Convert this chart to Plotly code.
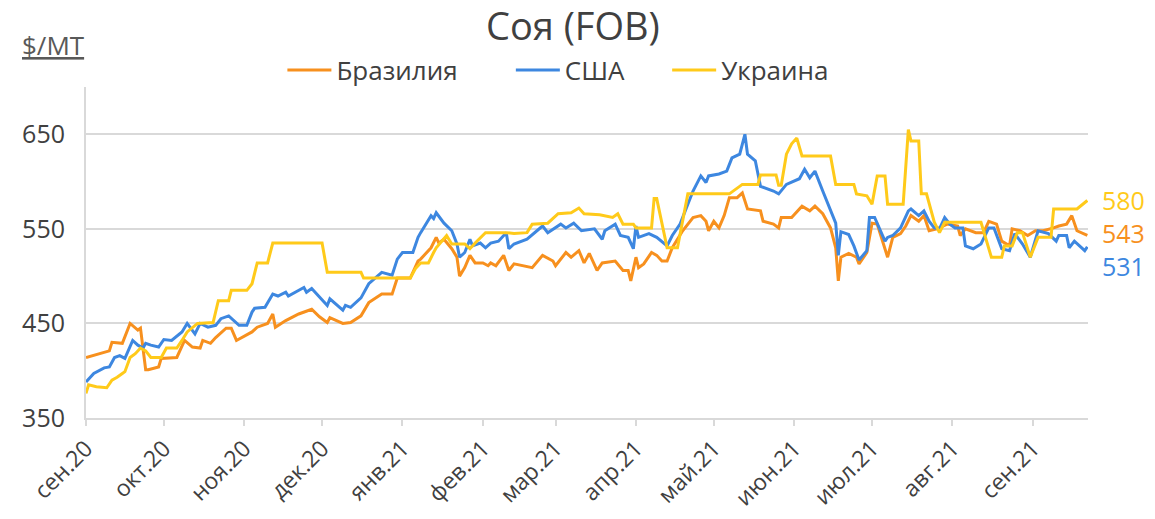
import plotly.graph_objects as go

# ---------------- data ----------------
brazil_dates = [
    "2020-09-01", "2020-09-10", "2020-09-11", "2020-09-15", "2020-09-18", "2020-09-21", "2020-09-22",
    "2020-09-24", "2020-09-25", "2020-09-29", "2020-09-30", "2020-10-06", "2020-10-09", "2020-10-12",
    "2020-10-15", "2020-10-16", "2020-10-19", "2020-10-21", "2020-10-25", "2020-10-27", "2020-10-29",
    "2020-10-31", "2020-11-04", "2020-11-06", "2020-11-10", "2020-11-12", "2020-11-13", "2020-11-17",
    "2020-11-22", "2020-11-27", "2020-11-30", "2020-12-03", "2020-12-04", "2020-12-09", "2020-12-12",
    "2020-12-16", "2020-12-19", "2020-12-24", "2020-12-28", "2020-12-30", "2021-01-04", "2021-01-07",
    "2021-01-08", "2021-01-12", "2021-01-14", "2021-01-15", "2021-01-17", "2021-01-20", "2021-01-22",
    "2021-01-23", "2021-01-25", "2021-01-27", "2021-01-29", "2021-02-01", "2021-02-03", "2021-02-04",
    "2021-02-06", "2021-02-09", "2021-02-11", "2021-02-13", "2021-02-20", "2021-02-24", "2021-02-28",
    "2021-03-01", "2021-03-05", "2021-03-07", "2021-03-10", "2021-03-12", "2021-03-14", "2021-03-17",
    "2021-03-19", "2021-03-24", "2021-03-27", "2021-03-29", "2021-03-30", "2021-04-01", "2021-04-02",
    "2021-04-04", "2021-04-07", "2021-04-09", "2021-04-11", "2021-04-13", "2021-04-15", "2021-04-19",
    "2021-04-23", "2021-04-26", "2021-04-28", "2021-04-29", "2021-05-01", "2021-05-03", "2021-05-05",
    "2021-05-07", "2021-05-10", "2021-05-12", "2021-05-14", "2021-05-19", "2021-05-20", "2021-05-24",
    "2021-05-26", "2021-05-27", "2021-05-31", "2021-06-04", "2021-06-07", "2021-06-09", "2021-06-12",
    "2021-06-15", "2021-06-17", "2021-06-18", "2021-06-19", "2021-06-22", "2021-06-25", "2021-06-26",
    "2021-06-29", "2021-07-01", "2021-07-03", "2021-07-07", "2021-07-09", "2021-07-12", "2021-07-14",
    "2021-07-16", "2021-07-17", "2021-07-19", "2021-07-21", "2021-07-23", "2021-07-26", "2021-07-30",
    "2021-08-03", "2021-08-04", "2021-08-06", "2021-08-10", "2021-08-13", "2021-08-15", "2021-08-18",
    "2021-08-20", "2021-08-23", "2021-08-24", "2021-08-27", "2021-08-30", "2021-09-02", "2021-09-05",
    "2021-09-09", "2021-09-11", "2021-09-14", "2021-09-16", "2021-09-18", "2021-09-22",
]
brazil_values = [
    414, 421, 430, 429, 450, 443, 445,
    401, 401, 404, 413, 414, 432, 425,
    424, 432, 429, 435, 445, 445, 432,
    435, 441, 446, 450, 460, 446, 453,
    460, 465, 457, 451, 456, 450, 451,
    458, 472, 481, 481, 498, 498, 516,
    518, 530, 541, 535, 539, 529, 520,
    500, 509, 522, 514, 514, 511, 514,
    511, 522, 506, 513, 509, 522, 516,
    511, 525, 520, 527, 514, 524, 506,
    514, 516, 506, 506, 495, 520, 509,
    513, 525, 522, 516, 516, 530, 548,
    562, 564, 558, 548, 558, 551, 564,
    583, 583, 588, 571, 569, 558, 555,
    551, 562, 562, 574, 569, 574, 566,
    551, 530, 495, 520, 524, 520, 513,
    525, 556, 555, 520, 541, 545, 553,
    564, 562, 558, 564, 548, 550, 555,
    553, 543, 550, 546, 546, 558, 555,
    537, 532, 550, 548, 543, 548, 548,
    551, 553, 555, 564, 548, 543,
]

usa_dates = [
    "2020-09-01", "2020-09-04", "2020-09-08", "2020-09-10", "2020-09-12", "2020-09-14", "2020-09-16",
    "2020-09-19", "2020-09-21", "2020-09-23", "2020-09-24", "2020-09-26", "2020-09-29", "2020-10-01",
    "2020-10-04", "2020-10-08", "2020-10-10", "2020-10-13", "2020-10-15", "2020-10-18", "2020-10-21",
    "2020-10-23", "2020-10-26", "2020-10-30", "2020-11-02", "2020-11-04", "2020-11-05", "2020-11-09",
    "2020-11-12", "2020-11-14", "2020-11-17", "2020-11-18", "2020-11-24", "2020-11-25", "2020-11-27",
    "2020-11-29", "2020-12-03", "2020-12-04", "2020-12-09", "2020-12-10", "2020-12-12", "2020-12-16",
    "2020-12-19", "2020-12-24", "2020-12-28", "2020-12-30", "2021-01-01", "2021-01-05", "2021-01-07",
    "2021-01-08", "2021-01-12", "2021-01-13", "2021-01-14", "2021-01-17", "2021-01-20", "2021-01-22",
    "2021-01-23", "2021-01-25", "2021-01-27", "2021-01-28", "2021-01-31", "2021-02-02", "2021-02-04",
    "2021-02-07", "2021-02-10", "2021-02-11", "2021-02-13", "2021-02-18", "2021-02-24", "2021-02-26",
    "2021-03-03", "2021-03-05", "2021-03-08", "2021-03-11", "2021-03-16", "2021-03-19", "2021-03-20",
    "2021-03-24", "2021-03-26", "2021-03-29", "2021-03-31", "2021-04-01", "2021-04-02", "2021-04-06",
    "2021-04-09", "2021-04-13", "2021-04-15", "2021-04-18", "2021-04-20", "2021-04-23", "2021-04-26",
    "2021-04-28", "2021-04-29", "2021-05-03", "2021-05-06", "2021-05-08", "2021-05-11", "2021-05-13",
    "2021-05-14", "2021-05-17", "2021-05-19", "2021-05-21", "2021-05-24", "2021-05-26", "2021-05-29",
    "2021-06-03", "2021-06-05", "2021-06-07", "2021-06-09", "2021-06-12", "2021-06-15", "2021-06-17",
    "2021-06-18", "2021-06-19", "2021-06-22", "2021-06-24", "2021-06-26", "2021-06-29", "2021-06-30",
    "2021-07-02", "2021-07-06", "2021-07-07", "2021-07-09", "2021-07-12", "2021-07-15", "2021-07-16",
    "2021-07-19", "2021-07-21", "2021-07-23", "2021-07-25", "2021-07-27", "2021-07-29", "2021-07-31",
    "2021-08-02", "2021-08-05", "2021-08-06", "2021-08-09", "2021-08-12", "2021-08-15", "2021-08-17",
    "2021-08-20", "2021-08-23", "2021-08-25", "2021-08-28", "2021-08-31", "2021-09-03", "2021-09-07",
    "2021-09-10", "2021-09-11", "2021-09-14", "2021-09-15", "2021-09-17", "2021-09-21", "2021-09-22",
]
usa_values = [
    388, 397, 403, 404, 414, 416, 413,
    432, 427, 424, 429, 427, 425, 433,
    432, 441, 450, 439, 450, 446, 448,
    455, 458, 448, 448, 462, 466, 467,
    481, 479, 483, 479, 488, 483, 487,
    481, 469, 476, 464, 469, 467, 477,
    492, 504, 501, 518, 525, 525, 541,
    546, 564, 561, 567, 556, 548, 534,
    520, 525, 539, 532, 535, 530, 535,
    537, 546, 529, 534, 539, 553, 546,
    555, 551, 556, 548, 550, 539, 548,
    555, 543, 541, 529, 553, 541, 545,
    541, 532, 543, 555, 569, 590, 606,
    599, 606, 608, 611, 625, 629, 650,
    629, 622, 595, 593, 590, 587, 597,
    603, 613, 604, 611, 590, 569, 556,
    522, 547, 544, 532, 517, 527, 562,
    562, 537, 541, 543, 551, 569, 571,
    564, 569, 558, 551, 550, 562, 555,
    551, 551, 532, 529, 534, 551, 551,
    529, 527, 545, 534, 520, 548, 545,
    537, 543, 543, 530, 537, 527, 531,
]

ukraine_dates = [
    "2020-09-01", "2020-09-02", "2020-09-05", "2020-09-09", "2020-09-11", "2020-09-13", "2020-09-15",
    "2020-09-16", "2020-09-18", "2020-09-20", "2020-09-22", "2020-09-24", "2020-09-26", "2020-09-30",
    "2020-10-02", "2020-10-06", "2020-10-08", "2020-10-10", "2020-10-14", "2020-10-20", "2020-10-22",
    "2020-10-26", "2020-10-27", "2020-11-02", "2020-11-04", "2020-11-06", "2020-11-10", "2020-11-12",
    "2020-12-01", "2020-12-03", "2020-12-16", "2020-12-17", "2021-01-04", "2021-01-06", "2021-01-08",
    "2021-01-11", "2021-01-13", "2021-01-14", "2021-01-18", "2021-01-20", "2021-01-25", "2021-01-27",
    "2021-01-29", "2021-02-02", "2021-02-10", "2021-02-13", "2021-02-18", "2021-02-20", "2021-02-26",
    "2021-03-02", "2021-03-07", "2021-03-10", "2021-03-12", "2021-03-18", "2021-03-23", "2021-03-25",
    "2021-03-27", "2021-03-31", "2021-04-01", "2021-04-07", "2021-04-08", "2021-04-09", "2021-04-13",
    "2021-04-17", "2021-04-21", "2021-05-07", "2021-05-12", "2021-05-18", "2021-05-19", "2021-05-25",
    "2021-05-26", "2021-05-27", "2021-05-29", "2021-05-31", "2021-06-02", "2021-06-04", "2021-06-15",
    "2021-06-17", "2021-06-24", "2021-06-25", "2021-06-29", "2021-07-01", "2021-07-03", "2021-07-06",
    "2021-07-07", "2021-07-13", "2021-07-15", "2021-07-16", "2021-07-19", "2021-07-20", "2021-07-22",
    "2021-07-23", "2021-07-25", "2021-07-27", "2021-07-29", "2021-08-12", "2021-08-16", "2021-08-20",
    "2021-08-21", "2021-08-24", "2021-08-26", "2021-08-28", "2021-08-31", "2021-09-03", "2021-09-08",
    "2021-09-09", "2021-09-18", "2021-09-22",
]
ukraine_values = [
    376, 385, 383, 382, 390, 393, 397,
    399, 414, 418, 424, 421, 414, 414,
    424, 424, 432, 441, 450, 451, 474,
    474, 485, 485, 492, 514, 514, 535,
    535, 504, 504, 498, 498, 508, 514,
    514, 525, 530, 543, 534, 534, 529,
    535, 546, 546, 545, 546, 555, 556,
    566, 567, 572, 566, 565, 562, 566,
    555, 555, 551, 551, 582, 582, 530,
    530, 587, 587, 597, 597, 607, 607,
    596, 596, 629, 640, 646, 627, 627,
    597, 597, 587, 585, 576, 606, 606,
    576, 576, 655, 643, 643, 587, 587,
    576, 557, 546, 557, 557, 520, 520,
    532, 532, 546, 546, 520, 541, 541,
    571, 571, 580,
]

month_ticks = ["2020-09-01", "2020-10-01", "2020-11-01", "2020-12-01", "2021-01-01", "2021-02-01",
               "2021-03-01", "2021-04-01", "2021-05-01", "2021-06-01", "2021-07-01", "2021-08-01",
               "2021-09-01"]
month_labels = ["сен.20", "окт.20", "ноя.20", "дек.20", "янв.21", "фев.21", "мар.21", "апр.21",
                "май.21", "июн.21", "июл.21", "авг.21", "сен.21"]

series_names = ["Бразилия", "США", "Украина"]
last_labels = ["543", "531", "580"]
label_positions = [546, 511, 580]

# ---------------- style ----------------
COLORS = ["#F7901E", "#3D87E0", "#FFCA1A"]
FONT = "Open Sans"
TEXT = "#404040"
LEGEND_X = [0.196, 0.424, 0.580]   # left edge of each legend entry (paper fraction)
LEGEND_IDS = ["legend", "legend2", "legend3"]

fig = go.Figure()
for name, xs, ys, c, lg in zip(series_names,
                               [brazil_dates, usa_dates, ukraine_dates],
                               [brazil_values, usa_values, ukraine_values], COLORS, LEGEND_IDS):
    fig.add_trace(go.Scatter(x=xs, y=ys, name=name, mode="lines", legend=lg,
                             line=dict(color=c, width=3)))

annotations = []
for txt, yv, c in zip(last_labels, label_positions, COLORS):
    annotations.append(dict(x=1.0, xref="paper", xanchor="left", xshift=13,
                            y=yv, yref="y", yanchor="middle", text=txt,
                            showarrow=False, borderpad=0,
                            font=dict(family=FONT, size=25, color=c)))
annotations.append(dict(x=0, xref="paper", xanchor="right", xshift=1,
                        y=1, yref="paper", yanchor="middle", yshift=42,
                        text="<u>$/MT</u>", showarrow=False,
                        font=dict(family=FONT, size=26, color="#595959")))

legend_common = dict(orientation="h", xanchor="left", y=1.051, yanchor="middle",
                     font=dict(family=FONT, size=26, color=TEXT),
                     itemwidth=44, bgcolor="rgba(0,0,0,0)", borderwidth=0)

layout_legends = {}
for lg, lx in zip(LEGEND_IDS, LEGEND_X):
    layout_legends[lg] = dict(legend_common, x=lx)

fig.update_layout(
    width=1155, height=519,
    margin=dict(l=86, r=67, t=87, b=101, autoexpand=False),
    paper_bgcolor="white", plot_bgcolor="white",
    font=dict(family=FONT, color=TEXT),
    title=dict(text="Соя (FOB)", x=0.496, xanchor="center", xref="container",
               y=0.948, yanchor="middle", yref="container",
               font=dict(family=FONT, size=38, color=TEXT)),
    annotations=annotations,
    showlegend=True,
    **layout_legends,
)
fig.update_xaxes(
    type="date", range=["2020-09-01", "2021-09-22 06:00"],
    tickmode="array", tickvals=month_ticks, ticktext=month_labels,
    tickangle=-45, tickfont=dict(family=FONT, size=23, color=TEXT),
    showgrid=False, showline=True, linecolor="#D9D9D9", linewidth=2,
    ticks="outside", ticklen=6, tickcolor="#D9D9D9", tickwidth=2,
    zeroline=False, automargin=False,
)
fig.update_yaxes(
    range=[350, 700], tick0=350, dtick=100,
    tickfont=dict(family=FONT, size=25, color=TEXT),
    showgrid=True, gridcolor="#D9D9D9", gridwidth=2,
    showline=True, linecolor="#D9D9D9", linewidth=2,
    ticks="", ticklabelstandoff=14, zeroline=False, automargin=False,
)

fig.write_html("out.html", post_script="document.body.style.margin='0';",
               config={"displayModeBar": False})
